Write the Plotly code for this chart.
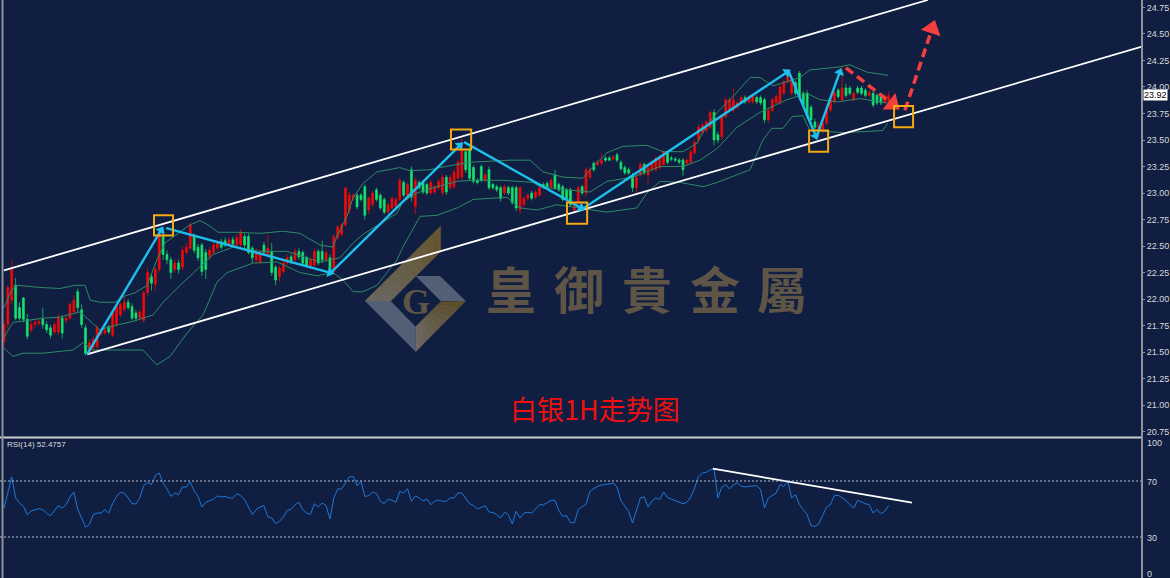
import plotly.graph_objects as go

opens = [21.60,21.76,21.99,22.13,21.92,22.01,21.81,21.71,21.76,21.77,
21.81,21.76,21.73,21.69,21.69,21.82,21.80,21.82,21.88,22.07,
21.90,21.73,21.49,21.54,21.55,21.67,21.68,21.74,21.66,21.76,
21.85,21.90,21.97,21.93,21.87,21.82,21.80,22.06,22.21,22.14,
22.28,22.59,22.42,22.37,22.28,22.34,22.30,22.44,22.48,22.59,
22.49,22.51,22.44,22.40,22.44,22.48,22.54,22.55,22.51,22.56,
22.51,22.51,22.59,22.59,22.48,22.37,22.35,22.51,22.42,22.45,
22.30,22.21,22.26,22.34,22.40,22.37,22.45,22.44,22.39,22.30,
22.32,22.45,22.45,22.37,22.39,22.26,22.58,22.61,22.70,22.84,
22.95,22.98,22.98,23.06,22.84,22.89,23.03,22.98,22.94,22.82,
22.86,22.87,22.94,23.10,22.95,23.22,22.87,23.10,23.10,23.08,
23.00,23.01,23.05,23.00,23.15,23.05,23.06,23.14,23.15,23.39,
23.41,23.24,23.12,23.25,23.12,23.22,23.08,23.06,23.05,23.00,
23.05,23.05,23.05,22.84,22.89,22.95,23.00,22.96,22.98,23.08,
23.09,23.06,23.17,23.08,23.06,23.03,23.03,22.84,22.91,23.06,
23.00,23.15,23.28,23.27,23.28,23.33,23.33,23.32,23.36,23.29,
23.24,23.22,23.17,23.05,23.17,23.27,23.17,23.22,23.22,23.24,
23.27,23.38,23.33,23.32,23.31,23.31,23.28,23.29,23.38,23.50,
23.57,23.59,23.62,23.76,23.55,23.53,23.72,23.78,23.78,23.81,
23.86,23.90,23.86,23.86,23.90,23.90,23.88,23.69,23.78,23.85,
23.85,23.94,24.05,23.94,24.04,24.13,23.94,23.94,23.81,23.67,
23.58,23.59,23.66,23.78,23.86,23.97,23.88,23.99,23.99,23.88,
23.99,23.99,23.97,23.92,23.94,23.92,23.91,23.86,23.86]

closes = [21.76,22.11,22.28,21.82,21.82,21.81,21.65,21.76,21.78,21.79,
21.76,21.71,21.66,21.76,21.83,21.68,21.82,21.95,21.99,21.92,
21.76,21.49,21.59,21.62,21.73,21.69,21.71,21.69,21.87,21.93,
21.95,21.97,21.92,21.82,21.82,21.88,22.06,22.25,22.15,22.28,
22.63,22.42,22.37,22.25,22.34,22.28,22.46,22.49,22.70,22.46,
22.39,22.26,22.28,22.46,22.51,22.53,22.49,22.51,22.56,22.52,
22.58,22.63,22.51,22.44,22.39,22.44,22.44,22.44,22.48,22.25,
22.18,22.29,22.34,22.39,22.36,22.45,22.40,22.34,22.32,22.37,
22.45,22.34,22.37,22.44,22.26,22.59,22.68,22.70,23.05,22.98,
22.98,22.87,22.94,22.79,22.95,23.00,22.94,22.86,22.82,22.89,
22.95,22.94,23.12,22.98,23.08,22.96,23.12,23.05,23.01,23.00,
23.10,23.06,23.11,23.15,23.01,23.15,23.20,23.29,23.41,23.22,
23.14,23.11,23.10,23.12,23.17,23.05,23.05,23.03,22.95,23.06,
23.00,22.91,22.86,23.05,22.95,22.98,22.95,23.01,23.05,23.06,
23.06,23.12,23.05,23.03,22.94,22.95,22.89,22.89,23.05,23.00,
23.22,23.22,23.22,23.29,23.31,23.31,23.31,23.34,23.31,23.23,
23.19,23.19,23.05,23.15,23.27,23.19,23.24,23.29,23.33,23.34,
23.39,23.29,23.32,23.31,23.29,23.22,23.31,23.39,23.48,23.62,
23.64,23.67,23.76,23.50,23.50,23.72,23.88,23.88,23.88,23.85,
23.90,23.86,23.90,23.91,23.86,23.85,23.69,23.78,23.88,23.91,
24.00,24.05,24.16,24.07,23.94,23.91,23.83,23.72,23.69,23.62,
23.64,23.66,23.78,23.88,23.95,23.91,23.99,23.92,23.94,23.94,
23.95,23.94,23.92,23.95,23.83,23.85,23.85,23.91,23.92]

highs = [21.80,22.13,22.37,22.20,21.97,22.02,21.86,21.80,21.82,21.82,
21.92,21.79,21.76,21.78,21.86,21.85,21.85,21.97,22.04,22.10,
21.95,21.76,21.62,21.65,21.76,21.72,21.74,21.76,21.89,21.95,
21.97,22.02,22.00,21.96,21.90,21.90,22.08,22.30,22.24,22.30,
22.67,22.63,22.46,22.40,22.37,22.37,22.50,22.53,22.72,22.62,
22.52,22.53,22.47,22.49,22.54,22.55,22.57,22.58,22.59,22.59,
22.61,22.66,22.62,22.62,22.50,22.48,22.47,22.54,22.61,22.53,
22.32,22.32,22.37,22.42,22.42,22.48,22.48,22.46,22.41,22.39,
22.48,22.47,22.55,22.47,22.42,22.61,22.70,22.72,23.05,23.01,
23.00,23.00,23.00,23.08,22.97,23.02,23.05,23.00,22.96,22.91,
22.97,22.96,23.14,23.12,23.10,23.25,23.15,23.12,23.12,23.10,
23.12,23.08,23.13,23.18,23.17,23.18,23.23,23.32,23.52,23.42,
23.43,23.26,23.14,23.27,23.20,23.25,23.10,23.08,23.07,23.08,
23.07,23.07,23.07,23.07,22.97,23.00,23.02,23.03,23.07,23.10,
23.11,23.14,23.22,23.10,23.08,23.05,23.05,22.91,23.07,23.08,
23.24,23.24,23.30,23.31,23.38,23.35,23.35,23.36,23.38,23.31,
23.26,23.24,23.19,23.17,23.29,23.29,23.26,23.31,23.35,23.36,
23.41,23.40,23.35,23.34,23.33,23.33,23.33,23.41,23.50,23.65,
23.66,23.69,23.78,23.79,23.58,23.74,23.90,23.90,23.99,23.87,
23.92,23.92,23.92,23.93,23.92,23.92,23.90,23.80,23.90,23.93,
24.02,24.07,24.17,24.09,24.06,24.15,23.96,23.97,23.83,23.70,
23.67,23.69,23.80,23.90,23.97,23.99,24.20,24.03,24.01,23.96,
24.01,24.01,23.99,23.97,23.96,23.94,23.93,23.94,23.96]

lows = [21.55,21.72,21.95,21.80,21.80,21.78,21.62,21.68,21.73,21.75,
21.72,21.68,21.63,21.66,21.66,21.63,21.77,21.80,21.86,21.88,
21.73,21.47,21.47,21.50,21.53,21.65,21.66,21.67,21.64,21.74,
21.83,21.88,21.90,21.80,21.79,21.80,21.78,22.03,22.08,22.08,
22.25,22.37,22.33,22.19,22.25,22.24,22.27,22.42,22.46,22.43,
22.36,22.22,22.19,22.37,22.42,22.46,22.47,22.49,22.49,22.50,
22.49,22.49,22.47,22.42,22.34,22.33,22.33,22.42,22.40,22.22,
22.13,22.16,22.24,22.32,22.33,22.35,22.37,22.31,22.30,22.28,
22.30,22.32,22.34,22.35,22.24,22.24,22.56,22.59,22.68,22.80,
22.93,22.85,22.92,22.75,22.80,22.87,22.92,22.84,22.80,22.80,
22.84,22.85,22.92,22.96,22.93,22.92,22.80,23.03,22.99,22.98,
22.98,22.99,23.03,22.97,22.98,23.03,23.04,23.12,23.12,23.19,
23.12,23.09,23.08,23.10,23.10,23.03,23.03,23.01,22.92,22.98,
22.98,22.89,22.83,22.80,22.87,22.93,22.93,22.94,22.96,23.04,
23.04,23.04,23.03,23.01,22.92,22.93,22.87,22.81,22.89,22.98,
22.96,23.13,23.20,23.25,23.26,23.29,23.30,23.30,23.29,23.21,
23.17,23.17,23.01,23.00,23.15,23.17,23.08,23.20,23.20,23.22,
23.25,23.27,23.30,23.29,23.27,23.16,23.26,23.27,23.36,23.47,
23.55,23.57,23.60,23.45,23.47,23.50,23.70,23.76,23.76,23.79,
23.84,23.84,23.84,23.84,23.84,23.83,23.66,23.66,23.76,23.83,
23.83,23.92,24.03,23.92,23.92,23.88,23.80,23.70,23.66,23.55,
23.52,23.56,23.64,23.76,23.84,23.89,23.86,23.90,23.92,23.86,
23.93,23.92,23.90,23.90,23.81,23.83,23.83,23.84,23.84]

upper_bars = [0,2,3.4,9.3,14.4,18.3,20.9,22.2,24.7,28.6,31.2,33.8,36.9,39.4,41.5,44.6,47.9,50.5,52.6,55.2,60.3,66,71.9,76.3,81.4,84.8,85.8,88.4,90,92.5,96.1,102,104.6,109.8,113.7,120.1,130.4,135.6,138.9,144.1,149.2,151.8,155.4,159.5,165.7,169.8,175,178.6,181.2,183.8,187.9,192.3,194.8,198.2,205.2,207.7,215.5,218,222.4,227.8]
upper_band = [21.92,22.09,22.13,22.11,22.10,22.13,22.13,21.99,21.97,21.97,22.03,22.06,22.13,22.37,22.53,22.61,22.70,22.74,22.70,22.63,22.63,22.62,22.64,22.62,22.51,22.49,22.59,22.78,22.96,23.09,23.20,23.24,23.21,23.22,23.25,23.29,23.31,23.31,23.20,23.15,23.14,23.25,23.38,23.44,23.45,23.39,23.39,23.47,23.64,23.76,23.91,24.09,24.09,24.01,24.09,24.16,24.19,24.21,24.14,24.11]

lower_bars = [0,2.3,4.9,10,17.8,20.4,22.7,27.3,35.8,39.4,42.8,47.2,51.3,54.9,57.5,64.2,70.4,76.3,80.7,84.8,87.4,90,92.5,96.1,101.3,102.8,107.2,111.6,116.8,120.9,129.6,133,137.4,142.5,151,155.4,163.1,165.7,169.1,174.2,180.2,183.8,192.3,195.6,197.9,200.8,203.1,205.9,207.7,212.4,216.2,222.4,226.5,227.8]
lower_band = [21.54,21.46,21.49,21.49,21.52,21.59,21.52,21.52,21.52,21.38,21.46,21.68,21.85,22.16,22.25,22.34,22.35,22.25,22.22,22.25,22.18,22.07,22.07,22.13,22.37,22.49,22.78,22.79,22.86,22.94,22.96,22.86,22.84,22.89,22.84,22.82,22.86,23.00,23.11,23.10,23.06,23.10,23.22,23.50,23.61,23.61,23.72,23.73,23.59,23.58,23.57,23.58,23.59,23.66]

middle_bars = [0,2.3,10,14.4,19.6,24.7,27.3,33.2,38.4,41,45.4,50.5,53.9,59,66,72.9,81.4,86.6,90,92.5,94.3,101.3,102.8,106.4,111.6,116.8,120.9,128.6,136.3,138.1,145.1,151,155.4,162.1,169.1,175,179.4,183.8,188.9,194.8,201.8,206.9,210.3,214.9,220.6,227.6]
middle_band = [21.64,21.78,21.82,21.83,21.88,21.71,21.74,21.79,21.85,21.97,22.13,22.30,22.42,22.49,22.45,22.45,22.35,22.39,22.53,22.61,22.65,22.81,22.92,23.00,23.06,23.11,23.12,23.12,23.10,23.06,23.03,23.01,23.11,23.15,23.25,23.25,23.31,23.42,23.62,23.76,23.88,23.94,23.88,23.86,23.89,23.85]

rsi_values = [50.7,61.4,72.9,57.9,54.3,51.9,46,48.6,49.3,50.2,49.5,46.9,45.2,49,52.4,50.7,53.1,58.6,62.1,50,43.6,37.1,38.8,46,47.1,47.1,49.5,47.1,53.8,59,61.9,61.4,57.9,53.8,53.6,57.9,66.7,69,67.4,73.8,75.7,68.6,64.3,59,61.4,60.2,65.7,65.7,69.3,63.1,59,51.4,54.8,56,57.1,59.3,58.6,59,57.9,57.9,61,59.5,56.7,51.4,46,49.5,51.4,52.4,44.3,43.6,39.5,41.2,44.3,49,49.8,53.1,54.8,49.5,47.1,46.2,53.8,51.4,54.3,52.4,42.9,57.9,64.3,64.3,69,72.9,73.3,66.7,69.8,59,59.5,62.1,61,55.5,53.8,57.1,56.2,54.8,62.6,
61.4,64.5,55.5,59.3,57.9,55.7,57.1,53.1,55.5,56.4,55.5,55.5,57.9,57.9,61.4,61.4,57.9,53.8,52.4,50,51,52.4,47.9,47.4,46,43.6,47.6,46,39.3,48.3,43.6,47.1,47.6,47.1,50,53.1,52.9,54.8,56.2,56.2,48.8,44.8,45.2,40.2,40.2,49.5,51.7,53.1,62.6,64.5,66.2,67.1,67.4,67.9,68.6,65.7,56,52.4,48.3,40,49.5,57.9,58.6,51.4,55.7,57.9,56.7,62.1,58.1,57.1,56.2,54.8,53.8,54.8,58.6,65,73.3,75.7,76.2,78.1,78.6,57.9,65.7,67.4,64.3,67.4,68.6,66.2,65.7,66.2,66.4,66.7,63.8,50.7,57.9,59.5,61.4,67.4,66.2,69.8,57.9,60.2,53.1,49.5,46,38.1,37.6,39.5,46,51.4,53.1,59.5,59.8,57.9,56.2,53.1,50.7,56.2,54.8,53.8,53.1,47.1,49.5,46.7,48.3,52.4]

price_ticks = [20.75,21.00,21.25,21.50,21.75,22.00,22.25,22.50,22.75,23.00,23.25,23.50,23.75,24.00,24.25,24.50,24.75]
rsi_ticks = ["100","70","30","0"]
rsi_levels = [70,30]

channel_upper_bars = [0,238.1]
channel_upper_price = [22.27,24.82]
channel_lower_bars = [21.4,293.3]
channel_lower_price = [21.48,24.38]

cyan_arrows = [
    ([21.4,40.5],[21.48,22.65]),
    ([41.8,84.0],[22.67,22.25]),
    ([84.0,117.5],[22.24,23.45]),
    ([118.6,148.7],[23.48,22.86]),
    ([148.7,201.8],[22.84,24.14]),
    ([202.1,209.2],[24.16,23.54]),
    ([209.3,215.4],[23.52,24.14]),
]
red_arrows = [
    ([217,229.0],[24.18,23.84]),
    ([232.2,239.2],[23.78,24.55]),
]
boxes = [
    (38.66,43.56,22.60,22.79),
    (115.2,120.4,23.41,23.60),
    (145.1,150.3,22.71,22.91),
    (207.5,212.4,23.39,23.59),
    (229.4,234.3,23.62,23.82),
]
rsi_trend_bars = [182.7,234]
rsi_trend_values = [78.8,54.5]
current_price = 23.92
brand_chars = ["皇","御","貴","金","屬"]
title_text = "白银1H走势图"
rsi_label = "RSI(14) 52.4757"

BG = "#0f1e41"
bars = list(range(len(closes)))
W, H = 1170, 578
PW = 1142
MAIN_BOTTOM, RSI_TOP = 437/H, 439/H

fig = go.Figure()


def logo_pt(a, b):
    return f"{(350+a/3)/PW:.4f} {1-(220+b/3)/H:.4f}"


def hex_mix(c0, c1, t):
    v0 = [int(c0[i:i+2], 16) for i in (1, 3, 5)]
    v1 = [int(c1[i:i+2], 16) for i in (1, 3, 5)]
    return "#" + "".join(f"{round(p+(q-p)*t):02x}" for p, q in zip(v0, v1))


def lerp(p, q, t):
    return (p[0]+(q[0]-p[0])*t, p[1]+(q[1]-p[1])*t)


def strips(a, b, c, d, c0, c1, n=10):
    # band running a->d along one edge, b->c along the other, coloured across its length
    for k in range(n):
        t0, t1 = k/n, (k+1)/n
        pts = [lerp(a, d, t0), lerp(b, c, t0), lerp(b, c, t1), lerp(a, d, t1)]
        path = "M " + " L ".join(logo_pt(*p) for p in pts) + " Z"
        fig.add_shape(type="path", path=path, xref="paper", yref="paper",
                      fillcolor=hex_mix(c0, c1, (t0+t1)/2), line=dict(color=hex_mix(c0, c1, (t0+t1)/2), width=0.5), layer="below")


strips((272, 18), (272, 95), (122, 243), (45, 243), "#66552f", "#6a675f")
strips((197, 395), (197, 320), (272, 245), (347, 243), "#6e6b63", "#5c4c2a")
for pts in ([(45, 243), (122, 243), (197, 320), (197, 395)], [(197, 168), (270, 168), (347, 243), (272, 243)]):
    fig.add_shape(type="path", path="M " + " L ".join(logo_pt(*p) for p in pts) + " Z",
                  xref="paper", yref="paper", fillcolor="#525f75", line_width=0, layer="below")

for xs, ys in [(upper_bars, upper_band), (middle_bars, middle_band), (lower_bars, lower_band)]:
    fig.add_trace(go.Scatter(x=xs, y=ys, mode="lines", line=dict(color="#2f8a66", width=1), hoverinfo="skip"))

fig.add_trace(go.Candlestick(x=bars, open=opens, high=highs, low=lows, close=closes,
    increasing=dict(line=dict(color="#f00a0a", width=0.7), fillcolor="#f00a0a"),
    decreasing=dict(line=dict(color="#16e36e", width=0.7), fillcolor="#16e36e"),
    whiskerwidth=0, hoverinfo="skip"))

for xs, ys in [(channel_upper_bars, channel_upper_price), (channel_lower_bars, channel_lower_price)]:
    fig.add_trace(go.Scatter(x=xs, y=ys, mode="lines", line=dict(color="white", width=1.8), hoverinfo="skip"))

for xs, ys in cyan_arrows:
    fig.add_trace(go.Scatter(x=xs, y=ys, mode="lines+markers", line=dict(color="#1cc0ea", width=2.4),
        marker=dict(symbol="triangle-up", size=[0,9], color="#1cc0ea", opacity=1, angleref="previous", line_width=0), hoverinfo="skip"))
for xs, ys in red_arrows:
    fig.add_trace(go.Scatter(x=xs, y=ys, mode="lines+markers", line=dict(color="#f53f3f", width=3.5, dash="9px,5px"),
        marker=dict(symbol="triangle-up", size=[0,18], color="#f53f3f", opacity=1, angleref="previous", line_width=0), hoverinfo="skip"))

for x0, x1, y0, y1 in boxes:
    fig.add_shape(type="rect", x0=x0, x1=x1, y0=y0, y1=y1, xref="x", yref="y", line=dict(color="#f5a912", width=2))

fig.add_trace(go.Scatter(x=bars, y=rsi_values, xaxis="x", yaxis="y2", mode="lines",
    line=dict(color="#1f78d8", width=1), hoverinfo="skip"))
fig.add_trace(go.Scatter(x=rsi_trend_bars, y=rsi_trend_values, xaxis="x", yaxis="y2", mode="lines",
    line=dict(color="white", width=1.8), hoverinfo="skip"))

for lv in rsi_levels:
    fig.add_shape(type="line", xref="paper", x0=0, x1=1, yref="y2", y0=lv, y1=lv,
                  line=dict(color="#b9c0cf", width=1, dash="2px,2px"))

fig.add_shape(type="line", xref="paper", x0=0, x1=1, yref="paper", y0=1-437.5/H, y1=1-437.5/H,
              line=dict(color="#cfd0d4", width=2))
fig.add_shape(type="line", xref="paper", x0=0.0022, x1=0.0022, yref="paper", y0=0, y1=1,
              line=dict(color="#8d929c", width=2))
fig.add_shape(type="line", xref="paper", x0=1, x1=1, yref="paper", y0=0, y1=1,
              line=dict(color="#8d929c", width=2))

ann = []
brand_px = [484,552,620,688,755]
for ch, px in zip(brand_chars, brand_px):
    ann.append(dict(text=f"<b>{ch}</b>", x=px/PW, y=1-287/H, xref="paper", yref="paper", showarrow=False,
                    xanchor="left", yanchor="middle",
                    font=dict(family="Noto Sans CJK TC", size=50, color="#5f5547")))
ann.append(dict(text="<b>G</b>", x=415.5/PW, y=1-301.5/H, xref="paper", yref="paper", showarrow=False,
                yanchor="middle", font=dict(family="Liberation Serif", size=36, color="#5f5547")))
ann.append(dict(text=title_text, x=595/PW, y=1-408/H, xref="paper", yref="paper", showarrow=False,
                yanchor="middle", font=dict(family="Noto Sans CJK SC", size=27, color="#f01010")))
ann.append(dict(text=rsi_label, x=5/PW, y=1-444/H, xref="paper", yref="paper", showarrow=False,
                xanchor="left", yanchor="middle", font=dict(family="Liberation Sans", size=8, color="#dddddd")))
ann.append(dict(text=f"{current_price:.2f}", x=1, y=current_price, xref="paper", yref="y", showarrow=False,
                xanchor="left", yanchor="middle", xshift=1, bgcolor="white", borderpad=0,
                font=dict(family="Liberation Sans", size=9, color="black")))
for t, py in zip(rsi_ticks, [443, 481.5, 537.5, 574]):
    ann.append(dict(text=t, x=1, y=1-py/H, xref="paper", yref="paper", showarrow=False, xanchor="left",
                    yanchor="middle", xshift=3, font=dict(family="Liberation Sans", size=9, color="#d8d8d8")))

fig.update_layout(
    width=W, height=H, margin=dict(l=0, r=W-PW, t=0, b=0, pad=0),
    paper_bgcolor=BG, plot_bgcolor=BG, showlegend=False, annotations=ann,
    xaxis=dict(range=[-1.03, 293.3], visible=False, fixedrange=True, rangeslider=dict(visible=False)),
    yaxis=dict(domain=[1-MAIN_BOTTOM, 1], range=[20.70, 24.82], side="right", tickvals=price_ticks,
               ticktext=[f"{v:.2f}" for v in price_ticks], showgrid=False, zeroline=False,
               ticks="outside", ticklen=2, tickcolor="#8d929c",
               tickfont=dict(family="Liberation Sans", size=9, color="#d8d8d8"), fixedrange=True),
    yaxis2=dict(domain=[0, 1-RSI_TOP], range=[0.7, 100], side="right", showticklabels=False,
                showgrid=False, zeroline=False, fixedrange=True),
)

fig.write_html("out.html", config=dict(displayModeBar=False), post_script="document.body.style.margin='0';")
